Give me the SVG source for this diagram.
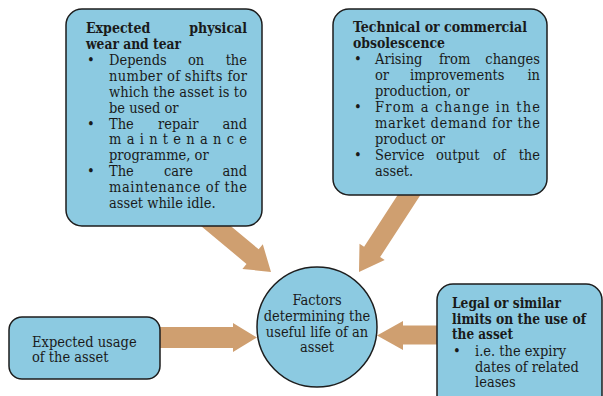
<svg xmlns="http://www.w3.org/2000/svg" width="603" height="396" viewBox="0 0 603 396">
<style>
.arr{fill:#cf9f70;stroke:none}
.box{fill:#8ccae1;stroke:#1d1d1d;stroke-width:1.5}
text{font-family:"DejaVu Serif Condensed","DejaVu Serif","Liberation Serif",serif;font-stretch:condensed;font-size:14.5px;fill:#1a1a1a}
.b{font-weight:bold;font-size:14px}
.e{text-anchor:end}
.m{text-anchor:middle}
</style>
<rect width="603" height="396" fill="#ffffff"/>
<g id="connectors">
<polygon class="arr" points="200.1,225.3 246.5,263.9 242.4,268.9 271,272 262.8,244.3 258.7,249.3 212.3,210.7"/>
<polygon class="arr" points="421.6,193.2 380.1,257.1 384.7,260.1 359,272 359.5,243.7 364.1,246.7 405.6,182.8"/>
<polygon class="arr" points="150,327 233,327 233,323 257,337.5 233,352 233,348 150,348"/>
<polygon class="arr" points="445,325.5 403,325.5 403,321 377,335.5 403,350 403,344.5 445,344.5"/>
</g>
<g id="node-wear">
<rect class="box" x="66" y="9" width="196" height="217" rx="16"/>
<text class="b" x="86" y="33">Expected</text><text class="b e" x="247" y="33">physical</text>
<text class="b" x="86" y="49" textLength="95" lengthAdjust="spacingAndGlyphs">wear and tear</text>
<text x="87" y="65">•</text>
<text x="109" y="65">Depends</text><text x="188" y="65">on</text><text class="e" x="247" y="65">the</text>
<text x="109" y="81" textLength="138" lengthAdjust="spacing">number of shifts for</text>
<text x="109" y="97" textLength="138" lengthAdjust="spacing">which the asset is to</text>
<text x="109" y="113">be used or</text>
<text x="87" y="129">•</text>
<text x="109" y="129">The</text><text x="158" y="129">repair</text><text class="e" x="247" y="129">and</text>
<text x="109" y="144" textLength="138" lengthAdjust="spacing">maintenance</text>
<text x="109" y="160">programme, or</text>
<text x="87" y="176">•</text>
<text x="109" y="176">The</text><text x="164" y="176">care</text><text class="e" x="247" y="176">and</text>
<text x="109" y="192" textLength="138" lengthAdjust="spacing">maintenance of the</text>
<text x="109" y="208">asset while idle.</text>
</g>
<g id="node-obsolescence">
<rect class="box" x="333" y="9" width="214" height="186" rx="16"/>
<text class="b" x="353" y="32" textLength="174" lengthAdjust="spacingAndGlyphs">Technical or commercial</text>
<text class="b" x="353" y="48" textLength="92" lengthAdjust="spacingAndGlyphs">obsolescence</text>
<text x="354" y="64">•</text>
<text x="375" y="64">Arising</text><text x="439" y="64">from</text><text class="e" x="540" y="64">changes</text>
<text x="375" y="80">or</text><text x="410" y="80">improvements</text><text class="e" x="540" y="80">in</text>
<text x="375" y="96">production, or</text>
<text x="354" y="112">•</text>
<text x="375" y="112" textLength="165" lengthAdjust="spacing">From a change in the</text>
<text x="375" y="128" textLength="165" lengthAdjust="spacing">market demand for the</text>
<text x="375" y="144">product or</text>
<text x="354" y="160">•</text>
<text x="375" y="160">Service</text><text x="436" y="160">output</text><text x="493" y="160">of</text><text class="e" x="540" y="160">the</text>
<text x="375" y="176">asset.</text>
</g>
<g id="node-usage">
<rect class="box" x="9" y="317" width="151" height="62" rx="13"/>
<text x="32" y="347">Expected usage</text>
<text x="32" y="362">of the asset</text>
</g>
<g id="node-factors">
<circle class="box" cx="317" cy="327" r="60"/>
<text class="m" x="317" y="305">Factors</text>
<text class="m" x="317" y="321">determining the</text>
<text class="m" x="317" y="337">useful life of an</text>
<text class="m" x="317" y="352">asset</text>
</g>
<g id="node-legal">
<rect class="box" x="437" y="284" width="165" height="130" rx="16"/>
<text class="b" x="452" y="308" textLength="109" lengthAdjust="spacingAndGlyphs">Legal or similar</text>
<text class="b" x="452" y="323.5" textLength="134" lengthAdjust="spacingAndGlyphs">limits on the use of</text>
<text class="b" x="452" y="339" textLength="61" lengthAdjust="spacingAndGlyphs">the asset</text>
<text x="453" y="356">•</text>
<text x="475" y="356">i.e. the expiry</text>
<text x="475" y="371.5">dates of related</text>
<text x="475" y="387">leases</text>
</g>
</svg>
